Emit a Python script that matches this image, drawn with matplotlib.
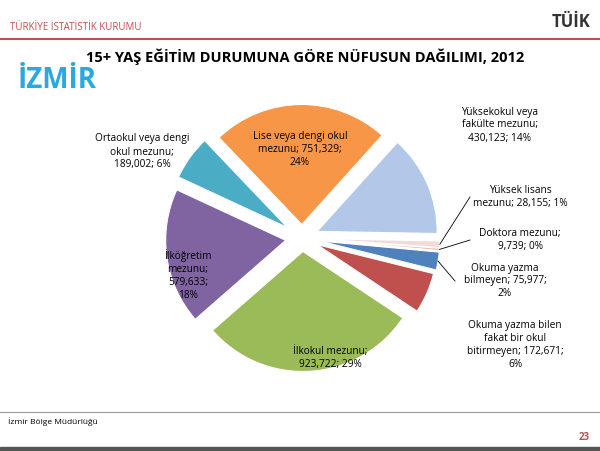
import matplotlib
matplotlib.use("Agg")
import matplotlib.pyplot as plt
import numpy as np

categories = ["Yüksekokul veya\nfakülte mezunu;\n430,123; 14%", "Yüksek lisans\nmezunu; 28,155; 1%",
              "Doktora mezunu;\n9,739; 0%", "Okuma yazma\nbilmeyen; 75,977;\n2%",
              "Okuma yazma bilen\nfakat bir okul\nbitirmeyen; 172,671;\n6%",
              "İlkokul mezunu;\n923,722; 29%", "İlköğretim\nmezunu;\n579,633;\n18%",
              "Ortaokul veya dengi\nokul mezunu;\n189,002; 6%", "Lise veya dengi okul\nmezunu; 751,329;\n24%"]
values = [430123, 28155, 9739, 75977, 172671, 923722, 579633, 189002, 751329]
colors = ["#B3C8E8", "#F2DCDB", "#E6B9B8", "#4F81BD", "#C0504D", "#9BBB59", "#8064A2", "#4BACC6", "#F79646"]

plt.rcParams["font.family"] = "Open Sans"
fig = plt.figure(figsize=(6, 4.51), dpi=100)
W, H = 600, 451
def fx(x): return x / W
def fy(y): return 1 - y / H

fig.text(fx(10), fy(27), "TÜRKİYE İSTATİSTİK KURUMU", color="#C0504D", fontsize=7, va="center")
fig.text(fx(590), fy(22), "TÜİK", color="#333333", fontsize=12, fontweight="bold", ha="right", va="center")
fig.add_artist(plt.Line2D([0, 1], [fy(39), fy(39)], color="#C0504D", lw=1.5))
fig.text(fx(305), fy(57), "15+ YAŞ EĞİTİM DURUMUNA GÖRE NÜFUSUN DAĞILIMI, 2012", fontsize=10.5,
         fontweight="bold", ha="center", va="center")
fig.text(fx(18), fy(80), "İZMİR", color="#29A9E0", fontsize=20, fontweight="bold", va="center")
fig.add_artist(plt.Line2D([0, 1], [fy(412), fy(412)], color="#999999", lw=0.8))
fig.text(fx(8), fy(422), "İzmir Bölge Müdürlüğü", fontsize=6, va="center")
fig.text(fx(590), fy(437), "23", color="#C0504D", fontsize=7, fontweight="bold", ha="right", va="center")
fig.add_artist(plt.Rectangle((0, 0), 1, fy(447), color="#555555", transform=fig.transFigure))

cx, cy, R = 302, 238, 150
ax = fig.add_axes([fx(cx - R), fy(cy + R), 2 * R / W, 2 * R / H])
explode = [0.11, 0.12, 0.12, 0.12, 0.11, 0.09, 0.11, 0.12, 0.09]
ax.pie(values, colors=colors, startangle=48, counterclock=False, explode=explode, radius=0.8,
       wedgeprops=dict(edgecolor="white", linewidth=0.8))
ax.set_xlim(-1, 1); ax.set_ylim(-1, 1); ax.set_aspect("auto"); ax.axis("off")

label_pos = [(500, 125), (520, 197), (520, 240), (505, 281),
             (515, 345), (330, 358), (188, 275), (142, 152), (300, 150)]
for cat, (x, y) in zip(categories, label_pos):
    fig.text(fx(x), fy(y), cat, fontsize=7.3, ha="center", va="center", linespacing=1.25)

# leader lines for the small slices
tot = sum(values)
ang = 48
for i, v in enumerate(values):
    a1 = ang - v / tot * 360
    mid = np.deg2rad((ang + a1) / 2)
    ang = a1
    if i in (1, 2, 3):
        r = 0.8 + explode[i]
        x0, y0 = r * np.cos(mid), r * np.sin(mid)
        tx, ty = label_pos[i]
        ex = (tx - 50 - cx) / R
        ey = (cy - ty) / R
        ax.plot([x0, ex], [y0, ey], color="black", lw=0.6, clip_on=False)

fig.savefig("out.png", dpi=100)
